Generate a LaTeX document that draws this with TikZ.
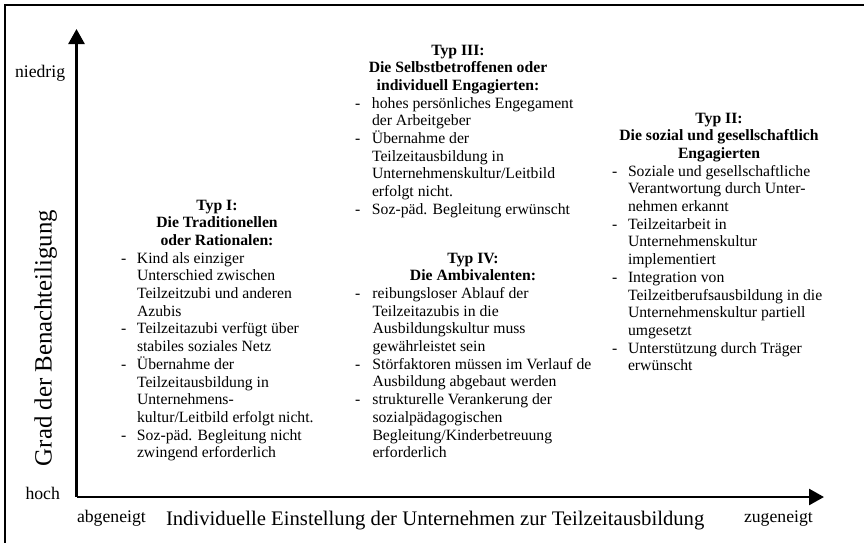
\documentclass[tikz,border=0pt]{standalone}
\usepackage{fontspec}
\setmainfont{Liberation Serif}
\usetikzlibrary{arrows.meta}
\newcommand{\dsh}[1]{\makebox[#1][l]{-}}
\newcommand{\ind}[1]{\hspace*{#1}}
\begin{document}
\begin{tikzpicture}[x=1pt,y=-1pt,
  every node/.style={inner sep=0pt,outer sep=0pt},
  axisline/.style={line width=2.6pt,-{Triangle[length=15pt,width=16pt]}},
  frameline/.style={line width=2.2pt},
  headtext/.style={anchor=base,font=\fontsize{15.7}{17.7}\selectfont\bfseries},
  bodytext/.style={anchor=base west,font=\fontsize{15.7}{17.7}\selectfont},
  axislabel/.style={font=\fontsize{17.7}{20}\selectfont},
  axistitle/.style={font=\fontsize{20.7}{24}\selectfont}]
\useasboundingbox (0,0) rectangle (864,542);
\clip (0,0) rectangle (864,542);
\fill[white] (0,0) rectangle (864,542);
\draw[frameline] (5,5) rectangle (880,560);
% axes
\coordinate (origin) at (76.5,497);
\coordinate (ytip) at (76.5,29);
\coordinate (xtip) at (824,497);
\draw[axisline] (origin) -- (ytip);
\draw[axisline] (origin) -- (xtip);
% axis labels
\node[axislabel,anchor=base west] (niedrig) at (15,77.5) {niedrig};
\node[axislabel,anchor=base west] (hoch) at (25.5,499) {hoch};
\node[axislabel,anchor=base west] (abgeneigt) at (77,522.5) {abgeneigt};
\node[axislabel,anchor=base west] (zugeneigt) at (744,522.5) {zugeneigt};
\node[axistitle,anchor=base west] (xtitle) at (166,525) {Individuelle Einstellung der Unternehmen zur Teilzeitausbildung};
\node[font=\fontsize{24.8}{28}\selectfont,anchor=base,rotate=90] (ytitle) at (51.5,338) {Grad der Benachteiligung};
% Typ I
\node[headtext] (h1) at (217,210) {\parbox[t]{300pt}{\centering Typ I:\\Die Traditionellen\\oder Rationalen:}};
\node[bodytext] (b1) at (121,263.1) {\parbox[t]{260pt}{\raggedright
\dsh{16pt}Kind als einziger\\
\ind{16pt}Unterschied zwischen\\
\ind{16pt}Teilzeitzubi und anderen\\
\ind{16pt}Azubis\\
\dsh{16pt}Teilzeitazubi verfügt über\\
\ind{16pt}stabiles soziales Netz\\
\dsh{16pt}Übernahme der\\
\ind{16pt}Teilzeitausbildung in\\
\ind{16pt}Unternehmens-\\
\ind{16pt}kultur/Leitbild erfolgt nicht.\\
\dsh{16pt}Soz-päd. Begleitung nicht\\
\ind{16pt}zwingend erforderlich}};
% Typ III
\node[headtext] (h3) at (458,55) {\parbox[t]{300pt}{\centering Typ III:\\Die Selbstbetroffenen oder\\individuell Engagierten:}};
\node[bodytext] (b3) at (355,108.1) {\parbox[t]{260pt}{\raggedright
\dsh{17pt}hohes persönliches Engegament\\
\ind{17pt}der Arbeitgeber\\
\dsh{17pt}Übernahme der\\
\ind{17pt}Teilzeitausbildung in\\
\ind{17pt}Unternehmenskultur/Leitbild\\
\ind{17pt}erfolgt nicht.\\
\dsh{17pt}Soz-päd. Begleitung erwünscht}};
% Typ IV
\node[headtext] (h4) at (473,263) {\parbox[t]{300pt}{\centering Typ IV:\\Die Ambivalenten:}};
\node[bodytext] (b4) at (355,298.4) {\parbox[t]{260pt}{\raggedright
\dsh{17.5pt}reibungsloser Ablauf der\\
\ind{17.5pt}Teilzeitazubis in die\\
\ind{17.5pt}Ausbildungskultur muss\\
\ind{17.5pt}gewährleistet sein\\
\dsh{17.5pt}Störfaktoren müssen im Verlauf de\\
\ind{17.5pt}Ausbildung abgebaut werden\\
\dsh{17.5pt}strukturelle Verankerung der\\
\ind{17.5pt}sozialpädagogischen\\
\ind{17.5pt}Begleitung/Kinderbetreuung\\
\ind{17.5pt}erforderlich}};
% Typ II
\node[headtext] (h2) at (719,123) {\parbox[t]{300pt}{\centering Typ II:\\Die sozial und gesellschaftlich\\Engagierten}};
\node[bodytext] (b2) at (612,176.1) {\parbox[t]{260pt}{\raggedright
\dsh{16pt}Soziale und gesellschaftliche\\
\ind{16pt}Verantwortung durch Unter-\\
\ind{16pt}nehmen erkannt\\
\dsh{16pt}Teilzeitarbeit in\\
\ind{16pt}Unternehmenskultur\\
\ind{16pt}implementiert\\
\dsh{16pt}Integration von\\
\ind{16pt}Teilzeitberufsausbildung in die\\
\ind{16pt}Unternehmenskultur partiell\\
\ind{16pt}umgesetzt\\
\dsh{16pt}Unterstützung durch Träger\\
\ind{16pt}erwünscht}};
\end{tikzpicture}
\end{document}
